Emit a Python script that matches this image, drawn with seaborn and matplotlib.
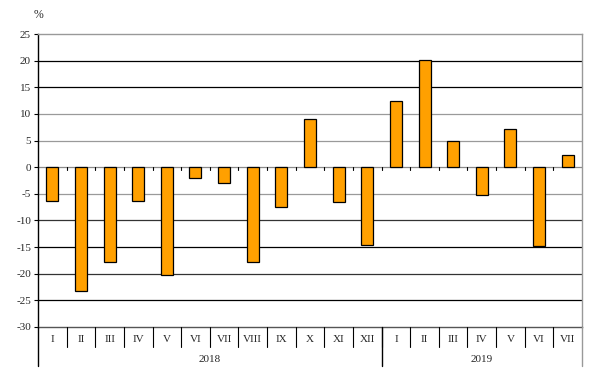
import matplotlib
matplotlib.use("Agg")
import matplotlib.pyplot as plt
import matplotlib.transforms as mtransforms
from matplotlib.lines import Line2D
import seaborn as sns
import pandas as pd

months = ["I", "II", "III", "IV", "V", "VI", "VII", "VIII", "IX", "X", "XI", "XII",
          "I", "II", "III", "IV", "V", "VI", "VII"]
years = ["2018"] * 12 + ["2019"] * 7
year_labels = ["2018", "2019"]
values = [-6.4, -23.3, -17.8, -6.4, -20.2, -2.0, -2.9, -17.8, -7.4, 9.0, -6.6, -14.6,
          12.4, 20.2, 5.0, -5.2, 7.1, -14.8, 2.2]
yticks = [25, 20, 15, 10, 5, 0, -5, -10, -15, -20, -25, -30]

df = pd.DataFrame({"pos": [f"{y}-{m}" for y, m in zip(years, months)],
                   "month": months, "year": years, "value": values})

sns.set_style("white")
plt.rcParams["font.family"] = ["Liberation Serif", "DejaVu Serif"]

fig = plt.figure(figsize=(5.92, 3.79), dpi=100, facecolor="white")
ax = fig.add_axes([38 / 592, 1 - 327 / 379, 544 / 592, 293 / 379])

sns.barplot(data=df, x="pos", y="value", ax=ax, color="#FFA000",
            saturation=1, width=0.42, edgecolor="black", linewidth=0.9, zorder=3)

ax.set_ylim(-30, 25)
ax.set_xlim(-0.5, len(months) - 0.5)
ax.set_yticks(yticks)
ax.set_yticklabels([str(t) for t in yticks], fontsize=8)
ax.tick_params(axis="y", length=3, width=0.8, color="black", pad=2, direction="out", left=True)
ax.set_xticks([])
ax.set_xlabel("")
ax.set_ylabel("")

grid_colors = {20: "black", 15: "black", 10: "#9a9a9a", 5: "#9a9a9a", 0: "#8a8a8a",
               -5: "#9a9a9a", -10: "#333333", -15: "black", -20: "#333333", -25: "black"}
for t in yticks:
    if t in (25, -30):
        continue
    ax.axhline(t, color=grid_colors[t], lw=0.9, zorder=1)

for side in ("top", "right"):
    ax.spines[side].set_color("#999999")
    ax.spines[side].set_linewidth(1.0)
ax.spines["bottom"].set_color("#555555")
ax.spines["bottom"].set_linewidth(1.0)
ax.spines["left"].set_color("black")
ax.spines["left"].set_linewidth(1.0)

n = len(months)
# small tick marks on the zero line between categories
for i in range(1, n):
    ax.add_line(Line2D([i - 0.5, i - 0.5], [0, -0.6], color="black", lw=0.8, zorder=4))

trans = mtransforms.blended_transform_factory(ax.transData, ax.transAxes)
px = 1 / 293  # axes fraction per pixel
for i, m in enumerate(months):
    ax.text(i, -13 * px, m, transform=trans, ha="center", va="center", fontsize=8)
for i in range(1, n):
    fig.add_artist(Line2D([i - 0.5, i - 0.5], [0, -20 * px], transform=trans,
                          color="black", lw=0.8))

boundaries = [-0.5]
count = 0
for y in year_labels:
    count += years.count(y)
    boundaries.append(count - 0.5)
for k, b in enumerate(boundaries):
    col = "#999999" if k == len(boundaries) - 1 else "black"
    fig.add_artist(Line2D([b, b], [0, -39 * px], transform=trans, color=col, lw=1.0))
for j, y in enumerate(year_labels):
    c = (boundaries[j] + boundaries[j + 1]) / 2
    ax.text(c, -32 * px, y, transform=trans, ha="center", va="center", fontsize=8)

fig.text(38 / 592, 1 - 15 / 379, "%", ha="center", va="center", fontsize=8.5)

fig.savefig("out.png", dpi=100, facecolor="white")
